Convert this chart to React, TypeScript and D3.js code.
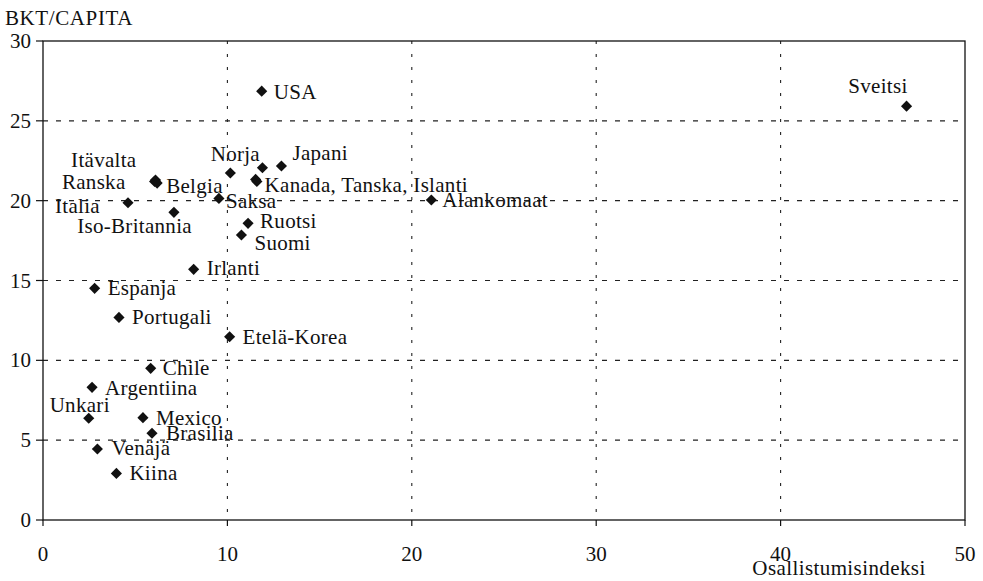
import * as React from 'react';
import * as d3 from 'd3';

// maat, osallistumisindeksi (x) ja BKT/capita (y)
const countries = ['USA', 'Sveitsi', 'Norja', 'Tanska', 'Japani', 'Kanada', 'Islanti', 'Itävalta', 'Ranska', 'Belgia',
  'Italia', 'Iso-Britannia', 'Saksa', 'Ruotsi', 'Suomi', 'Alankomaat', 'Irlanti', 'Espanja', 'Portugali',
  'Etelä-Korea', 'Chile', 'Argentiina', 'Unkari', 'Mexico', 'Brasilia', 'Venäjä', 'Kiina'];
const indexValues = [11.86, 46.83, 10.16, 11.9, 12.93, 11.53, 11.6, 6.1, 6.05, 6.19,
  4.61, 7.1, 9.54, 11.12, 10.76, 21.06, 8.17, 2.8, 4.12,
  10.12, 5.84, 2.66, 2.48, 5.42, 5.91, 2.95, 3.98];
const gdpValues = [26.86, 25.92, 21.73, 22.06, 22.17, 21.33, 21.2, 21.29, 21.2, 21.1,
  19.87, 19.27, 20.14, 18.58, 17.85, 20.04, 15.7, 14.51, 12.69,
  11.48, 9.5, 8.31, 6.37, 6.41, 5.43, 4.45, 2.92];
const labels = ['USA', 'Sveitsi', 'Norja', '', 'Japani', 'Kanada, Tanska, Islanti', '', 'Itävalta', 'Ranska', 'Belgia',
  'Italia', 'Iso-Britannia', 'Saksa', 'Ruotsi', 'Suomi', 'Alankomaat', 'Irlanti', 'Espanja', 'Portugali',
  'Etelä-Korea', 'Chile', 'Argentiina', 'Unkari', 'Mexico', 'Brasilia', 'Venäjä', 'Kiina'];

const xTicks = [0, 10, 20, 30, 40, 50];
const yTicks = [0, 5, 10, 15, 20, 25, 30];

// label placement relative to the marker: [dx, dy, anchor]
const labelPos: Record<string, [number, number, string]> = {
  'USA': [12, 8, 'start'],
  'Sveitsi': [1, -13, 'end'],
  'Norja': [5, -12, 'middle'],
  'Japani': [11, -6, 'start'],
  'Kanada': [9, 13, 'start'],
  'Itävalta': [-19, -13, 'end'],
  'Ranska': [-29, 7, 'end'],
  'Belgia': [9, 10, 'start'],
  'Italia': [-28, 10, 'end'],
  'Iso-Britannia': [18, 21, 'end'],
  'Saksa': [7, 10, 'start'],
  'Ruotsi': [12, 5, 'start'],
  'Suomi': [13, 15, 'start'],
  'Alankomaat': [11, 7, 'start'],
  'Irlanti': [13, 6, 'start'],
  'Espanja': [13, 7, 'start'],
  'Portugali': [13, 7, 'start'],
  'Etelä-Korea': [13, 7, 'start'],
  'Chile': [12, 7, 'start'],
  'Argentiina': [13, 8, 'start'],
  'Unkari': [-9, -6, 'middle'],
  'Mexico': [13, 7, 'start'],
  'Brasilia': [14, 7, 'start'],
  'Venäjä': [14, 6, 'start'],
  'Kiina': [13, 7, 'start'],
};

const width = 983;
const height = 581;
const margin = {left: 43, right: 18, top: 41, bottom: 61};
const font = 'Liberation Serif, Times New Roman, DejaVu Serif, serif';
const ink = '#111';

export default function App() {
  const x = d3.scaleLinear().domain([0, 50]).range([margin.left, width - margin.right]);
  const y = d3.scaleLinear().domain([0, 30]).range([height - margin.bottom, margin.top]);
  const diamond = d3.symbol(d3.symbolSquare, 62)();

  return (
    <svg width={width} height={height}
         style={{position: 'absolute', left: 0, top: 0, background: '#fff', fontFamily: font}}
         fill={ink}>
      {/* grid */}
      {yTicks.filter(t => t > 0 && t < 30).map(t => (
        <line key={'gy' + t} x1={x(0)} x2={x(50)} y1={y(t)} y2={y(t)}
              stroke="#222" strokeWidth={1.1} strokeDasharray="5 8"/>
      ))}
      {xTicks.filter(t => t > 0 && t < 50).map(t => (
        <line key={'gx' + t} x1={x(t)} x2={x(t)} y1={y(30)} y2={y(0)}
              stroke="#222" strokeWidth={1.1} strokeDasharray="3 10"/>
      ))}
      {/* frame */}
      <rect x={x(0)} y={y(30)} width={x(50) - x(0)} height={y(0) - y(30)} fill="none" stroke={ink} strokeWidth={1.3}/>
      {/* ticks */}
      {yTicks.map(t => (
        <g key={'ty' + t}>
          <line x1={x(0) - 7} x2={x(0)} y1={y(t)} y2={y(t)} stroke={ink} strokeWidth={1.2}/>
          <text x={31} y={y(t) + 7} textAnchor="end" fontSize={21}>{t}</text>
        </g>
      ))}
      {xTicks.map(t => (
        <g key={'tx' + t}>
          <line x1={x(t)} x2={x(t)} y1={y(0)} y2={y(0) + 6} stroke={ink} strokeWidth={1.2}/>
          <text x={x(t)} y={561} textAnchor="middle" fontSize={21}>{t}</text>
        </g>
      ))}
      {/* axis titles */}
      <text x={5} y={25} fontSize={21} letterSpacing={0.6}>BKT/CAPITA</text>
      <text x={839} y={575} textAnchor="middle" fontSize={21} letterSpacing={0.4}>Osallistumisindeksi</text>
      {/* markers */}
      {countries.map((c, i) => (
        <path key={'m' + c} d={diamond}
              transform={`translate(${x(indexValues[i])},${y(gdpValues[i])}) rotate(45)`} fill={ink}/>
      ))}
      {/* labels */}
      {countries.map((c, i) => {
        const p = labelPos[c];
        if (!labels[i] || !p) return null;
        return (
          <text key={'l' + c} x={x(indexValues[i]) + p[0]} y={y(gdpValues[i]) + p[1]}
                textAnchor={p[2] as any} fontSize={21} letterSpacing={0.3}>{labels[i]}</text>
        );
      })}
    </svg>
  );
}
